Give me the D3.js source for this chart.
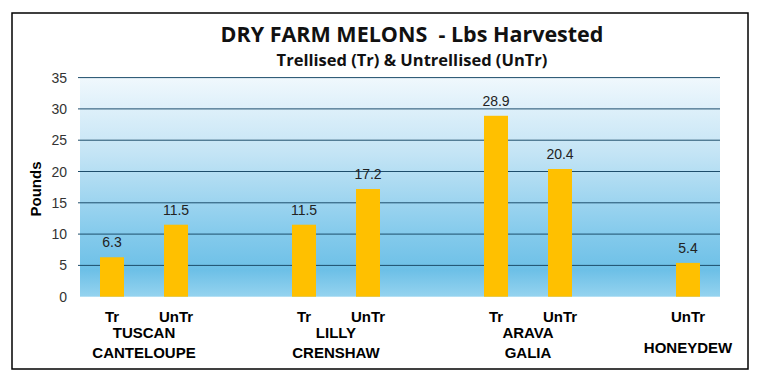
<!DOCTYPE html>
<html><head><meta charset="utf-8">
<script src="https://cdn.jsdelivr.net/npm/d3@7"></script>
<style>html,body{margin:0;padding:0;background:#fff;}svg{display:block;}</style>
</head><body>
<script>
const slots = ["t1","u1","g1","t2","u2","g2","t3","u3","t4","u4"];
const tickLabels = ["Tr","UnTr","","Tr","UnTr","","Tr","UnTr","","UnTr"];
const values = [6.3, 11.5, null, 11.5, 17.2, null, 28.9, 20.4, null, 5.4];
const groupNames = [["TUSCAN","CANTELOUPE"],["LILLY","CRENSHAW"],["ARAVA","GALIA"],["HONEYDEW"]];
const groupSlots = [["t1","u1"],["t2","u2"],["t3","u3"],["u4"]];
const yTicks = [0,5,10,15,20,25,30,35];

const W=760,H=382;
const svg=d3.select("body").append("svg").attr("width",W).attr("height",H);
svg.append("rect").attr("x",12).attr("y",13).attr("width",736).attr("height",356)
  .attr("fill","#fff").attr("stroke","#000").attr("stroke-width",1.5);

const x0=80,x1=720,yTop=77.6,yBot=296.7;
const x=d3.scaleBand().domain(slots).range([x0,x1]).paddingInner(0.625).paddingOuter(0.3125);
const y=d3.scaleLinear().domain([0,35]).range([yBot,yTop]);

const defs=svg.append("defs");
const g=defs.append("linearGradient").attr("id","bg").attr("x1",0).attr("y1",0).attr("x2",0).attr("y2",1);
[[0,"#f0f8fd"],[0.35,"#c3e4f5"],[0.7,"#86cbec"],[0.88,"#6dc0e7"],[1,"#95d3ef"]].forEach(s=>g.append("stop").attr("offset",s[0]).attr("stop-color",s[1]));
svg.append("rect").attr("x",x0).attr("y",yTop).attr("width",x1-x0).attr("height",yBot-yTop).attr("fill","url(#bg)");

// grid
svg.append("g").selectAll("line").data(yTicks.filter(d=>d>0)).join("line")
  .attr("x1",x0-2).attr("x2",x1).attr("y1",d=>y(d)).attr("y2",d=>y(d))
  .attr("stroke","#1d4d6b").attr("stroke-width",1);

// y axis labels
svg.append("g").selectAll("text").data(yTicks).join("text")
  .attr("x",67).attr("y",d=>y(d)+5).attr("text-anchor","end")
  .attr("font-family","Liberation Sans, Arial, sans-serif").attr("font-size",14).attr("fill","#333")
  .text(d=>d);

const data=slots.map((s,i)=>({s,v:values[i],t:tickLabels[i]})).filter(d=>d.v!=null);
svg.append("g").selectAll("rect").data(data).join("rect")
  .attr("x",d=>x(d.s)).attr("width",x.bandwidth()).attr("y",d=>y(d.v)).attr("height",d=>y(0)-y(d.v))
  .attr("fill","#FFC000");
svg.append("g").selectAll("text").data(data).join("text")
  .attr("x",d=>x(d.s)+x.bandwidth()/2).attr("y",d=>y(d.v)-10).attr("text-anchor","middle")
  .attr("font-family","Liberation Sans, Arial, sans-serif").attr("font-size",14).attr("fill","#222")
  .text(d=>d.v.toFixed(1));

// tick labels
svg.append("g").selectAll("text").data(slots.map((s,i)=>({s,t:tickLabels[i]})).filter(d=>d.t)).join("text")
  .attr("x",d=>x(d.s)+x.bandwidth()/2).attr("y",322).attr("text-anchor","middle")
  .attr("font-family","Liberation Sans, Arial, sans-serif").attr("font-weight","bold").attr("font-size",15).attr("fill","#000")
  .text(d=>d.t);

groupNames.forEach((names,i)=>{
  const ss=groupSlots[i];
  const cx=d3.mean(ss,s=>x(s)+x.bandwidth()/2);
  const ys = names.length===2?[338,358]:[353];
  names.forEach((n,j)=>svg.append("text").attr("x",cx).attr("y",ys[j]).attr("text-anchor","middle")
    .attr("font-family","Liberation Sans, Arial, sans-serif").attr("font-weight","bold").attr("font-size",15).attr("fill","#000").text(n));
});

// axis title
svg.append("text").attr("transform","translate(41,189) rotate(-90)").attr("text-anchor","middle")
  .attr("font-family","Liberation Sans, Arial, sans-serif").attr("font-weight","bold").attr("font-size",15).attr("fill","#000").text("Pounds");

// titles
svg.append("text").attr("x",412).attr("y",42).attr("text-anchor","middle")
  .attr("font-family","Open Sans, Liberation Sans, sans-serif").attr("font-weight","bold").attr("font-size",21.5).attr("fill","#111")
  .attr("xml:space","preserve").style("white-space","pre").text("DRY FARM MELONS  - Lbs Harvested");
svg.append("text").attr("x",412).attr("y",66).attr("text-anchor","middle")
  .attr("font-family","Open Sans, Liberation Sans, sans-serif").attr("font-weight","bold").attr("font-size",16.5).attr("fill","#111")
  .text("Trellised (Tr) & Untrellised (UnTr)");
</script>
</body></html>
